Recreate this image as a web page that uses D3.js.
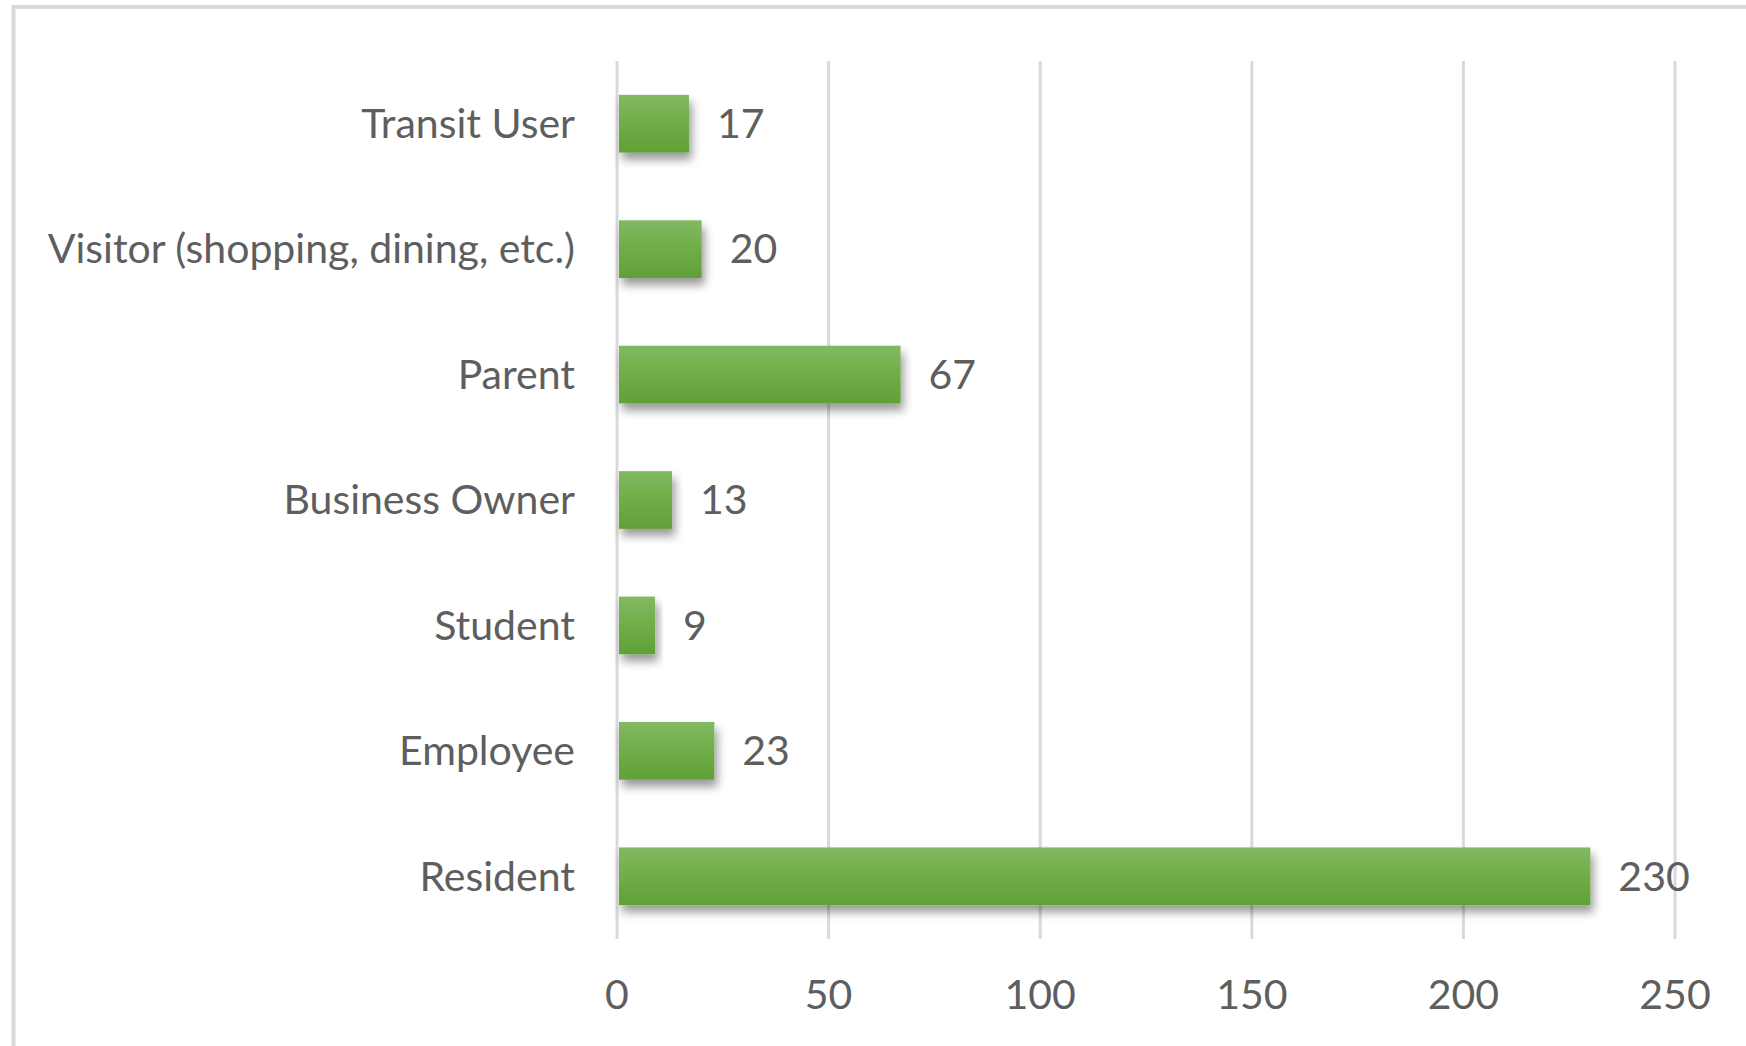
<!DOCTYPE html>
<html>
<head>
<meta charset="utf-8">
<script src="https://cdn.jsdelivr.net/npm/d3@7/dist/d3.min.js"></script>
<style>
  html, body { margin: 0; padding: 0; background: #fff; overflow: hidden; }
  svg { display: block; }
  text { font-family: Lato, "Open Sans", sans-serif; fill: #5e5e5e; }
</style>
</head>
<body>
<svg id="chart" width="1746" height="1046"></svg>
<script>
// chart data, top row first
const categories = ["Transit User", "Visitor (shopping, dining, etc.)", "Parent",
  "Business Owner", "Student", "Employee", "Resident"];
const counts = [17, 20, 67, 13, 9, 23, 230];
const xTicks = [0, 50, 100, 150, 200, 250];

const W = 1746, H = 1046;
const plot = { left: 617, right: 1675, top: 61, bottom: 939 };
const fontSize = 41;

const svg = d3.select("#chart");

// gradient + shadow for the bars
const defs = svg.append("defs");
const grad = defs.append("linearGradient")
  .attr("id", "barFill").attr("x1", 0).attr("y1", 0).attr("x2", 0).attr("y2", 1);
grad.append("stop").attr("offset", "0%").attr("stop-color", "#81b963");
grad.append("stop").attr("offset", "50%").attr("stop-color", "#70ad47");
grad.append("stop").attr("offset", "100%").attr("stop-color", "#61a037");
const shadow = defs.append("filter").attr("id", "barShadow")
  .attr("x", "-10%").attr("y", "-20%").attr("width", "130%").attr("height", "170%");
shadow.append("feDropShadow")
  .attr("dx", 3).attr("dy", 7).attr("stdDeviation", 5)
  .attr("flood-color", "#000").attr("flood-opacity", 0.4);

// outer chart border (right and bottom run off the picture)
svg.append("rect")
  .attr("x", 13.5).attr("y", 7)
  .attr("width", W + 20).attr("height", H + 20)
  .attr("fill", "none").attr("stroke", "#d9d9d9").attr("stroke-width", 4);

const x = d3.scaleLinear().domain([0, 250]).range([plot.left, plot.right]);
const y = d3.scaleBand().domain(categories)
  .range([plot.top, plot.bottom])
  .paddingInner(0.54).paddingOuter(0.27);

// vertical gridlines
svg.append("g").selectAll("line").data(xTicks).join("line")
  .attr("x1", d => x(d)).attr("x2", d => x(d))
  .attr("y1", plot.top).attr("y2", plot.bottom)
  .attr("stroke", "#d9d9d9").attr("stroke-width", 3);

// x tick labels
svg.append("g").selectAll("text").data(xTicks).join("text")
  .attr("x", d => x(d)).attr("y", 995)
  .attr("text-anchor", "middle").attr("dy", "0.35em")
  .style("font-size", fontSize + "px")
  .text(d => d);

// category labels
svg.append("g").selectAll("text").data(categories).join("text")
  .attr("x", 575).attr("y", d => y(d) + y.bandwidth() / 2)
  .attr("text-anchor", "end").attr("dy", "0.35em")
  .style("font-size", fontSize + "px")
  .text(d => d);

// bars
const rows = categories.map((c, i) => ({ cat: c, value: counts[i] }));
svg.append("g").selectAll("rect").data(rows).join("rect")
  .attr("x", x(0) + 2)
  .attr("y", d => y(d.cat))
  .attr("width", d => x(d.value) - x(0) - 2)
  .attr("height", y.bandwidth())
  .attr("fill", "url(#barFill)")
  .attr("filter", "url(#barShadow)");

// value labels
svg.append("g").selectAll("text").data(rows).join("text")
  .attr("x", d => x(d.value) + 28).attr("y", d => y(d.cat) + y.bandwidth() / 2)
  .attr("dy", "0.35em")
  .style("font-size", fontSize + "px")
  .text(d => d.value);
</script>
</body>
</html>
